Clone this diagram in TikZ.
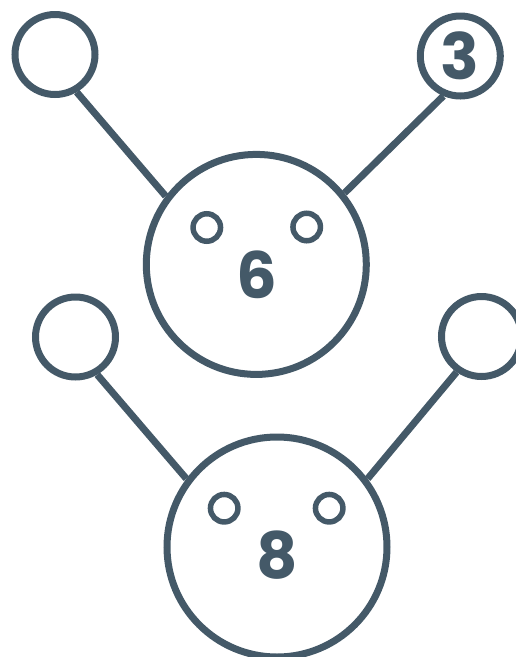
\documentclass[tikz,border=0pt]{standalone}
\usepackage{fontspec}
\setmainfont{Poppins}
\usepackage{tikz}
\usetikzlibrary{positioning}
\definecolor{slate}{RGB}{68,89,104}

\begin{document}
\begin{tikzpicture}[x=1pt,y=-1pt,
  head/.style={draw=slate,circle,line width=7pt,minimum size=220pt,inner sep=0pt},
  ball/.style={draw=slate,circle,line width=7pt,minimum size=80pt,inner sep=0pt},
  eye/.style={draw=slate,circle,line width=5.5pt,minimum size=27.5pt,inner sep=0pt},
  digit/.style={text=slate,font=\fontsize{64}{64}\selectfont\bfseries,inner sep=0pt},
  stick/.style={draw=slate,line width=7pt}]
\useasboundingbox (0,0) rectangle (516,657);
% upper figure
\node[head] (h1) at (256.3,264.4) {};
\node[eye] (e1l) at (206.8,227.5) {};
\node[eye] (e1r) at (306.7,227) {};
\node[digit] (n6) at (257,275) {6};
\node[ball] (b1l) at (55,54.5) {};
\node[ball,digit,draw=slate,line width=7pt] (b1r) at (460.3,56) {3};
\draw[stick] (b1l.-60.6) -- (h1.143);
\draw[stick] (b1r.247) -- (h1.39.3);
% lower figure
\node[head] (h2) at (277,547) {};
\node[eye] (e2l) at (224.2,508.2) {};
\node[eye] (e2r) at (329.2,508.2) {};
\node[digit] (n8) at (277.5,555.5) {8};
\node[ball] (b2l) at (75.5,337) {};
\node[ball] (b2r) at (481.5,336.5) {};
\draw[stick] (b2l.-60.8) -- (h2.143);
\draw[stick] (b2r.235) -- (h2.37.4);
\end{tikzpicture}
\end{document}
